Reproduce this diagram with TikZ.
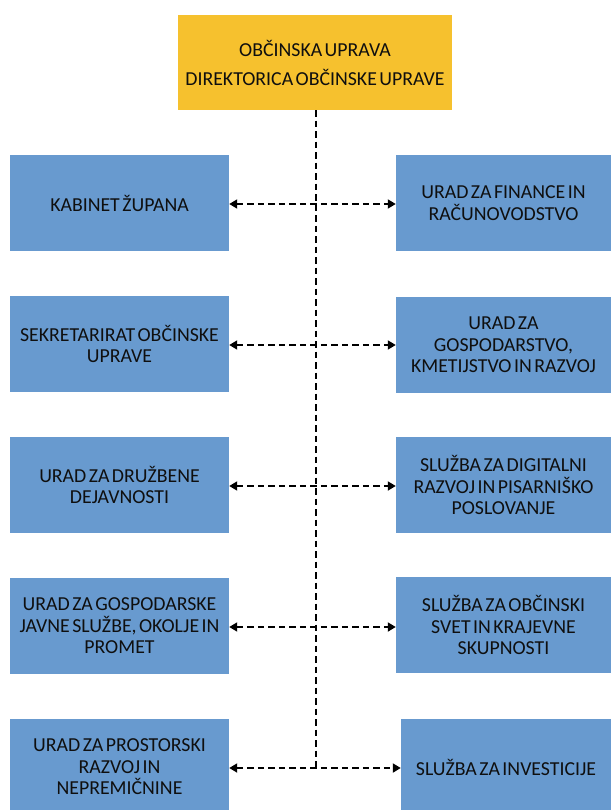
\documentclass[tikz,border=0pt]{standalone}
\usepackage{fontspec}
\setmainfont{Carlito}[WordSpace=0.55]
\usetikzlibrary{arrows.meta}
\definecolor{boxblue}{RGB}{104,154,207}
\definecolor{boxgold}{RGB}{246,193,46}
\definecolor{txt}{RGB}{15,15,15}
\tikzset{
  unit/.style={fill=boxblue, draw=none, inner sep=0pt, align=center, text=txt,
    font=\fontsize{19.8}{21.5}\selectfont},
  link/.style={dash pattern=on 6.5pt off 4pt, line width=1.8pt, black,
    {Triangle[length=8pt,width=9pt]}-{Triangle[length=8pt,width=9pt]}},
  trunk/.style={dash pattern=on 6.5pt off 4pt, line width=1.8pt, black}
}
\begin{document}
\begin{tikzpicture}[x=1pt,y=-1pt]
\useasboundingbox (0,0) rectangle (611,810);
% top box
\node[fill=boxgold, minimum width=274pt, minimum height=95pt, align=center, text=txt,
  font=\fontsize{19.8}{29}\selectfont] (top) at (315,62.5)
  {OBČINSKA UPRAVA\\DIREKTORICA OBČINSKE UPRAVE};
% left boxes
\node[unit, minimum width=219pt, minimum height=96pt] (l1) at (119.5,203) {KABINET ŽUPANA};
\node[unit, minimum width=219pt, minimum height=96pt] (l2) at (119.5,344) {SEKRETARIRAT OBČINSKE\\UPRAVE};
\node[unit, minimum width=219pt, minimum height=96pt] (l3) at (119.5,485) {URAD ZA DRUŽBENE\\DEJAVNOSTI};
\node[unit, minimum width=219pt, minimum height=96pt] (l4) at (119.5,626) {URAD ZA GOSPODARSKE\\JAVNE SLUŽBE, OKOLJE IN\\PROMET};
\node[unit, minimum width=219pt, minimum height=96pt] (l5) at (119.5,767) {URAD ZA PROSTORSKI\\RAZVOJ IN\\NEPREMIČNINE};
% right boxes
\node[unit, minimum width=215pt, minimum height=96pt] (r1) at (503.5,203) {URAD ZA FINANCE IN\\RAČUNOVODSTVO};
\node[unit, minimum width=215pt, minimum height=96pt] (r2) at (503.5,345) {URAD ZA\\GOSPODARSTVO,\\KMETIJSTVO IN RAZVOJ};
\node[unit, minimum width=215pt, minimum height=96pt] (r3) at (503.5,485) {SLUŽBA ZA DIGITALNI\\RAZVOJ IN PISARNIŠKO\\POSLOVANJE};
\node[unit, minimum width=215pt, minimum height=96pt] (r4) at (503.5,625) {SLUŽBA ZA OBČINSKI\\SVET IN KRAJEVNE\\SKUPNOSTI};
\node[unit, minimum width=210pt, minimum height=96pt] (r5) at (506,767) {SLUŽBA ZA INVESTICIJE};
% trunk and junctions
\coordinate (j1) at (316,204);
\coordinate (j2) at (316,345);
\coordinate (j3) at (316,486);
\coordinate (j4) at (316,627);
\coordinate (j5) at (316,768);
\draw[trunk] (top.south -| j1) -- (j5);
\draw[link] (l1.east |- j1) -- (j1) -- (r1.west |- j1);
\draw[link] (l2.east |- j2) -- (j2) -- (r2.west |- j2);
\draw[link] (l3.east |- j3) -- (j3) -- (r3.west |- j3);
\draw[link] (l4.east |- j4) -- (j4) -- (r4.west |- j4);
\draw[link] (l5.east |- j5) -- (j5) -- (r5.west |- j5);
\end{tikzpicture}
\end{document}
